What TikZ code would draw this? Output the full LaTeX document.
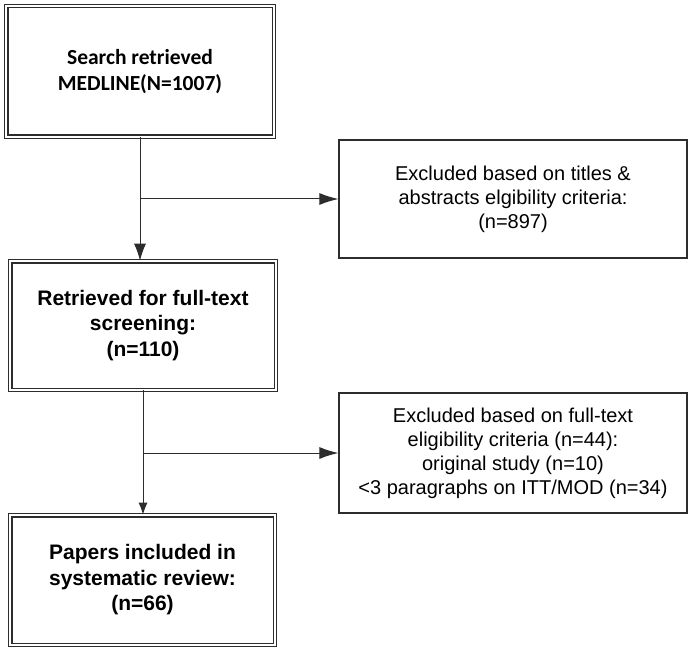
\documentclass[tikz,border=0pt]{standalone}
\usepackage{fontspec}
\setmainfont{Liberation Sans}
\newfontfamily\calibrifont{Carlito}
\usetikzlibrary{arrows.meta}
\definecolor{linegray}{RGB}{45,45,45}

\begin{document}
\begin{tikzpicture}[x=1pt,y=-1pt,
    stagebox/.style={draw=linegray,line width=1.2pt,double,double distance=2pt,
        inner sep=0pt,align=center,font=\fontsize{21}{25.5}\selectfont\bfseries},
    exclbox/.style={draw=linegray,line width=1.2pt,inner sep=0pt,align=center,
        minimum width=348pt,font=\fontsize{20}{24}\selectfont},
    flow/.style={draw=linegray,line width=1pt,-{Latex[length=19pt,width=12pt]}}]
    \useasboundingbox (0,0) rectangle (692,652);

    % Boxes
    \node[stagebox,minimum width=267.4pt,minimum height=130.4pt,
        font=\fontsize{21.5}{26}\calibrifont\bfseries] (search) at (140,71.5)
        {Search retrieved\\ MEDLINE(N=1007)};
    \node[stagebox,minimum width=265.4pt,minimum height=128.4pt] (fulltext) at (143,325.5)
        {Retrieved for full-text\\screening:\\(n=110)};
    \node[stagebox,minimum width=264.4pt,minimum height=129.4pt] (included) at (142.5,580)
        {Papers included in\\systematic review:\\(n=66)};
    \node[exclbox,minimum height=118pt] (excltitle) at (513,199)
        {Excluded based on titles \&\\abstracts elgibility criteria:\\(n=897)};
    \node[exclbox,minimum height=120pt] (exclfull) at (513,453)
        {Excluded based on full-text\\eligibility criteria (n=44):\\original study (n=10)\\<3 paragraphs on ITT/MOD (n=34)};

    % Arrows
    \coordinate (split1) at (search.south |- excltitle.west);
    \coordinate (split2) at (fulltext.south |- exclfull.west);
    \draw[flow,-{Latex[length=17pt,width=12pt]}] (search.south) -- (search.south |- fulltext.north);
    \draw[flow] (split1) -- (excltitle.west);
    \draw[flow,-{Latex[length=12pt,width=9pt]}] (fulltext.south) -- (fulltext.south |- included.north);
    \draw[flow] (split2) -- (exclfull.west);
\end{tikzpicture}
\end{document}
